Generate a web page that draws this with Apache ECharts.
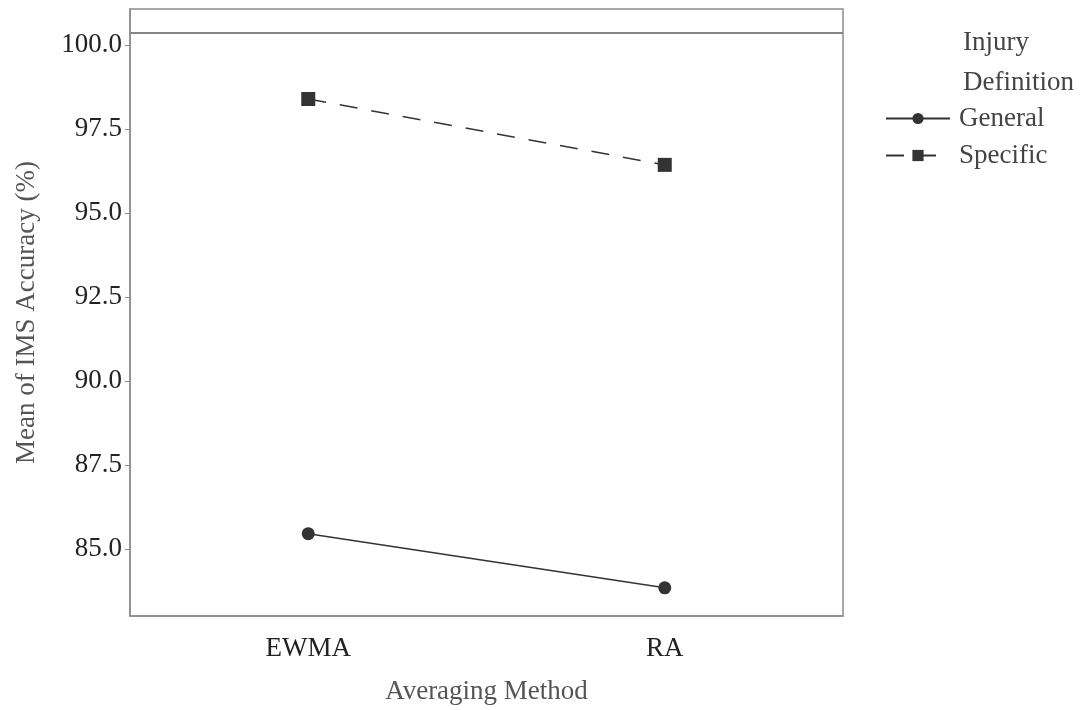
<!DOCTYPE html>
<html>
<head>
<meta charset="utf-8">
<script src="https://cdn.jsdelivr.net/npm/echarts@6/dist/echarts.min.js"></script>
<style>html,body{margin:0;padding:0;background:#fff}#c{width:1080px;height:710px}</style>
</head>
<body>
<div id="c"></div>
<script>
var categories = ['EWMA', 'RA'];
var generalValues = [85.45, 83.84];
var specificValues = [98.39, 96.43];
var yTicks = [85, 87.5, 90, 92.5, 95, 97.5, 100];
var refLineValue = 100.36;

var FONT = '"Liberation Serif", "DejaVu Serif", serif';
var chart = echarts.init(document.getElementById('c'), null, {renderer: 'canvas'});
chart.setOption({
  backgroundColor: '#fff',
  animation: false,
  title: {
    text: 'Injury\nDefinition',
    left: 958, top: 18,
    textStyle: {fontFamily: FONT, fontSize: 27, fontWeight: 'normal', color: '#444', lineHeight: 40}
  },
  legend: {
    orient: 'vertical',
    left: 880, top: 100,
    itemWidth: 64, itemHeight: 14, itemGap: 10,
    textStyle: {fontFamily: FONT, fontSize: 27, color: '#444', padding: [0, 0, 0, 4]},
    data: ['General', 'Specific']
  },
  grid: {
    left: 130, right: 237, top: 9, bottom: 94,
    show: true, borderColor: '#8c8c8c', borderWidth: 1.5, containLabel: false
  },
  xAxis: {
    type: 'category',
    data: categories,
    boundaryGap: true,
    name: 'Averaging Method',
    nameLocation: 'middle',
    nameGap: 62,
    nameTextStyle: {fontFamily: FONT, fontSize: 27, color: '#555'},
    axisLine: {lineStyle: {color: '#8c8c8c', width: 1.5}},
    axisTick: {alignWithLabel: true, length: 5, lineStyle: {color: '#8c8c8c'}},
    axisLabel: {fontFamily: FONT, fontSize: 27, color: '#222', margin: 19},
    splitLine: {show: false}
  },
  yAxis: {
    type: 'value',
    min: 83.0, max: 101.07,
    name: 'Mean of IMS Accuracy (%)',
    nameLocation: 'middle',
    nameGap: 90,
    nameTextStyle: {fontFamily: FONT, fontSize: 27, color: '#555'},
    axisLine: {show: true, lineStyle: {color: '#8c8c8c', width: 1.5}},
    axisTick: {show: true, length: 5, lineStyle: {color: '#8c8c8c'}, customValues: yTicks},
    axisLabel: {fontFamily: FONT, fontSize: 27, color: '#222', margin: 8, customValues: yTicks,
      formatter: function (v) { return Number(v).toFixed(1); }},
    splitLine: {show: false}
  },
  series: [
    {
      name: 'General', type: 'line', data: generalValues,
      symbol: 'circle', symbolSize: 13,
      itemStyle: {color: '#333'},
      lineStyle: {color: '#333', width: 1.5, type: 'solid'},
      markLine: {
        silent: true, symbol: 'none', label: {show: false},
        lineStyle: {color: '#858585', width: 2, type: 'solid'},
        data: [{yAxis: refLineValue}]
      }
    },
    {
      name: 'Specific', type: 'line', data: specificValues,
      symbol: 'rect', symbolSize: 14,
      itemStyle: {color: '#333'},
      lineStyle: {color: '#333', width: 1.5, type: [18, 14]}
    }
  ]
});
</script>
</body>
</html>
